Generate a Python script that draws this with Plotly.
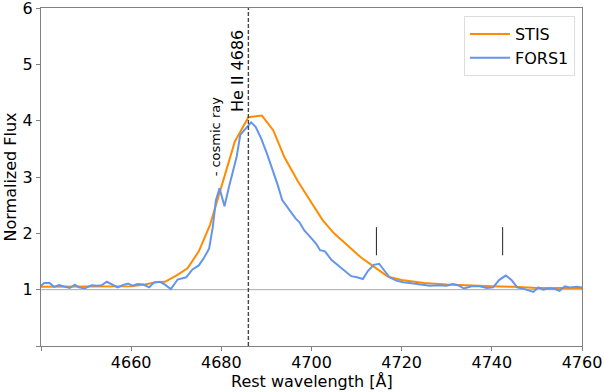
import plotly.graph_objects as go

# STIS spectrum
stis_wave = [4640, 4645, 4650, 4655, 4660, 4663, 4665.5, 4667.5, 4670, 4672.5, 4675, 4677.5,
             4680, 4683, 4686, 4689, 4691.5, 4694, 4697, 4700, 4702.5, 4705, 4708, 4711,
             4714, 4717, 4720, 4725, 4730, 4735, 4740, 4745, 4750, 4755, 4760]
stis_flux = [1.05, 1.05, 1.05, 1.05, 1.06, 1.09, 1.13, 1.14, 1.25, 1.38, 1.68, 2.15,
             2.82, 3.63, 4.06, 4.09, 3.83, 3.35, 2.92, 2.55, 2.23, 2.00, 1.78, 1.57,
             1.40, 1.23, 1.17, 1.12, 1.09, 1.07, 1.06, 1.05, 1.03, 1.03, 1.03]

# FORS1 spectrum
fors_wave = [4640, 4640.7, 4641.9, 4642.9, 4644, 4645.1, 4646.4, 4647.5, 4648.4, 4649.7,
             4651.2, 4652.5, 4653.5, 4654.6, 4655.9, 4657, 4658.1, 4659.3, 4660.3, 4661.4,
             4662.7, 4664, 4665.1, 4666.4, 4667.5, 4668.8, 4670.3, 4672.2, 4673.6, 4675,
             4676.2, 4677.3, 4678.1, 4678.8, 4679.6, 4680.7, 4681.8, 4682.7, 4683.4, 4684.2,
             4685.6, 4686.6, 4687.6, 4688.8, 4690.1, 4691.3, 4692.5, 4693.5, 4694.5, 4695.5,
             4696.5, 4697.3, 4698.4, 4699.9, 4701, 4701.9, 4703, 4704.4, 4705.9, 4707.3,
             4708.8, 4710.1, 4711.4, 4712.5, 4713.8, 4715, 4716.2, 4717.3, 4718.8, 4720.3,
             4721.8, 4724, 4726.2, 4728.4, 4729.9, 4731.4, 4732.5, 4733.8, 4735.5, 4737.3,
             4738.9, 4740.3, 4741.6, 4743.1, 4744.4, 4745.6, 4747.3, 4749.2, 4750.3, 4751.4,
             4752.5, 4754, 4755, 4756.2, 4757.3, 4758.8, 4760]
fors_flux = [1.07, 1.12, 1.12, 1.05, 1.08, 1.06, 1.03, 1.09, 1.04, 1.02,
             1.08, 1.07, 1.08, 1.14, 1.08, 1.04, 1.08, 1.11, 1.07, 1.10,
             1.09, 1.04, 1.13, 1.14, 1.09, 1.01, 1.18, 1.22, 1.36, 1.43,
             1.57, 1.73, 2.11, 2.59, 2.80, 2.48, 2.86, 3.13, 3.36, 3.75,
             3.89, 3.97, 3.89, 3.69, 3.42, 3.15, 2.86, 2.59, 2.48, 2.36,
             2.26, 2.20, 2.05, 1.92, 1.82, 1.70, 1.68, 1.53, 1.43, 1.33,
             1.24, 1.22, 1.19, 1.33, 1.44, 1.46, 1.33, 1.22, 1.16, 1.13,
             1.12, 1.10, 1.07, 1.08, 1.07, 1.10, 1.08, 1.02, 1.06, 1.06,
             1.03, 1.04, 1.17, 1.25, 1.17, 1.04, 1.01, 0.96, 1.04, 1.00,
             1.02, 1.01, 0.98, 1.06, 1.04, 1.05, 1.04]

# reference lines / markers
he2_line = 4686
continuum = 1.0
feature_marks = [4714.4, 4742.4]
mark_range = [1.61, 2.11]

x_ticks = [4640, 4660, 4680, 4700, 4720, 4740, 4760]
x_ticktext = ["", "4660", "4680", "4700", "4720", "4740", "4760"]
y_ticks = [0, 1, 2, 3, 4, 5, 6]
y_ticktext = ["", "1", "2", "3", "4", "5", "6"]

FONT = "DejaVu Sans"

fig = go.Figure()
fig.add_trace(go.Scatter(x=stis_wave, y=stis_flux, mode="lines", name="STIS",
                         line=dict(color="#ff8c00", width=2)))
fig.add_trace(go.Scatter(x=fors_wave, y=fors_flux, mode="lines", name="FORS1",
                         line=dict(color="#6495ed", width=2)))

shapes = [
    dict(type="line", xref="paper", yref="y", x0=0, x1=1, y0=continuum, y1=continuum,
         line=dict(color="#aaaaaa", width=1), layer="below"),
    dict(type="line", xref="x", yref="paper", x0=he2_line, x1=he2_line, y0=0, y1=1,
         line=dict(color="#444444", width=1.4, dash="4px,2px")),
]
for m in feature_marks:
    shapes.append(dict(type="line", xref="x", yref="y", x0=m, x1=m,
                       y0=mark_range[0], y1=mark_range[1],
                       line=dict(color="#222222", width=1)))

annotations = [
    dict(x=4683.6, y=4.875, xref="x", yref="y", text="He II 4686", textangle=-90,
         showarrow=False, font=dict(family=FONT, size=16, color="black"),
         xanchor="center", yanchor="middle"),
    dict(x=4678.7, y=3.73, xref="x", yref="y", text="- cosmic ray", textangle=-90,
         showarrow=False, font=dict(family=FONT, size=13, color="black"),
         xanchor="center", yanchor="middle"),
    dict(x=0.5, y=0, xref="paper", yref="paper", yshift=-24, text="Rest wavelength [Å]",
         showarrow=False, font=dict(family=FONT, size=16, color="black"),
         xanchor="center", yanchor="top"),
    dict(x=0, y=0.5, xref="paper", yref="paper", xshift=-20, text="Normalized Flux",
         textangle=-90, showarrow=False, font=dict(family=FONT, size=16, color="black"),
         xanchor="right", yanchor="middle"),
]

fig.update_layout(
    width=604, height=392,
    margin=dict(l=41, r=22, t=8, b=46),
    paper_bgcolor="white", plot_bgcolor="white",
    font=dict(family=FONT, size=16, color="black"),
    shapes=shapes, annotations=annotations,
    showlegend=True,
    legend=dict(x=0.987, y=0.976, xanchor="right", yanchor="top",
                bgcolor="white", bordercolor="#dddddd", borderwidth=1,
                font=dict(family=FONT, size=16), tracegroupgap=0, itemwidth=40),
    xaxis=dict(range=[4640, 4760], tickvals=x_ticks, ticktext=x_ticktext,
               showgrid=False, zeroline=False, showline=True, mirror=True,
               linecolor="#808080", linewidth=1, ticks="outside", ticklen=4,
               tickcolor="#808080", tickfont=dict(family=FONT, size=16),
               ticklabelstandoff=-2,
               automargin=False, ticklabeloverflow="allow"),
    yaxis=dict(range=[0, 6], tickvals=y_ticks, ticktext=y_ticktext,
               showgrid=False, zeroline=False, showline=True, mirror=True,
               linecolor="#808080", linewidth=1, ticks="outside", ticklen=4,
               tickcolor="#808080", tickfont=dict(family=FONT, size=16),
               automargin=False, ticklabeloverflow="allow"),
)

fig.write_html("out.html", config={"displayModeBar": False},
               post_script="document.body.style.margin='0';")
